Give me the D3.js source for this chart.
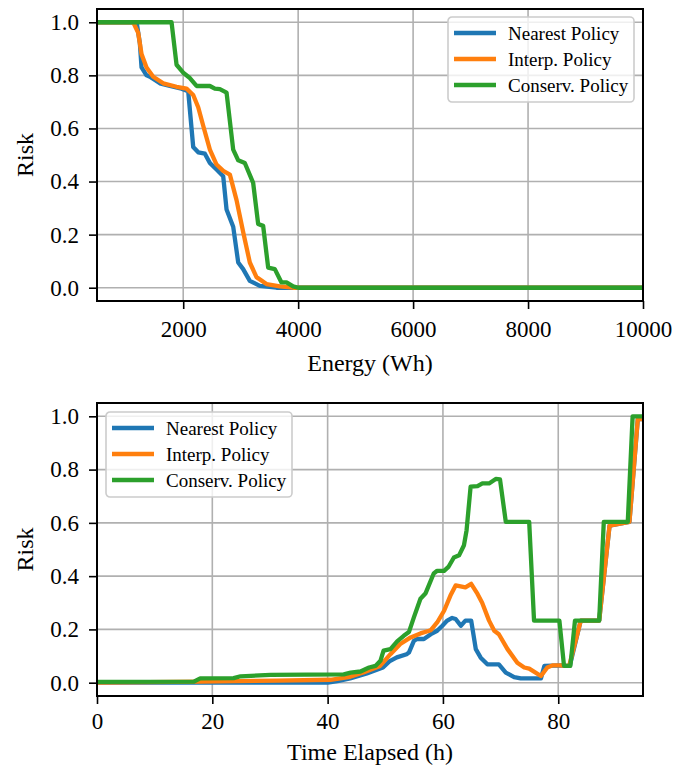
<!DOCTYPE html>
<html>
<head>
<meta charset="utf-8">
<script src="https://cdn.jsdelivr.net/npm/d3@7"></script>
<style>
  html, body { margin: 0; padding: 0; background: #fff; }
  svg text { font-family: "Liberation Serif", "Tinos", "Times New Roman", "Nimbus Roman", "Nimbus Roman No9 L", Times, "DejaVu Serif", serif !important; fill: #000; }
</style>
</head>
<body>
<svg id="chart" width="699" height="769"></svg>
<script>
// ---------------- DATA ----------------
const seriesNames = ["Nearest Policy", "Interp. Policy", "Conserv. Policy"];
const seriesColors = ["#1f77b4", "#ff7f0e", "#2ca02c"];

// Top panel: Risk vs Energy (Wh)
const topNearestEnergy = [500, 1190, 1246, 1275, 1362, 1420, 1594, 1768, 1971, 2087, 2174, 2261, 2377, 2464, 2580, 2696, 2754, 2870, 2957, 3043, 3159, 3333, 3623, 10000];
const topNearestRisk   = [1, 1, 0.92, 0.83, 0.80, 0.795, 0.77, 0.76, 0.75, 0.74, 0.53, 0.51, 0.505, 0.47, 0.445, 0.42, 0.295, 0.23, 0.095, 0.07, 0.026, 0.007, 0, 0];
const topInterpEnergy  = [500, 1130, 1217, 1275, 1362, 1478, 1652, 1884, 2058, 2174, 2261, 2348, 2464, 2580, 2696, 2812, 2928, 3043, 3159, 3275, 3449, 3681, 3913, 10000];
const topInterpRisk    = [1, 1, 0.96, 0.88, 0.83, 0.795, 0.77, 0.757, 0.75, 0.726, 0.68, 0.61, 0.52, 0.464, 0.44, 0.426, 0.33, 0.21, 0.095, 0.04, 0.014, 0.005, 0, 0];
const topConservEnergy = [500, 1797, 1884, 2000, 2116, 2232, 2464, 2551, 2638, 2754, 2870, 2957, 3072, 3217, 3304, 3391, 3478, 3594, 3710, 3797, 3913, 4000, 10000];
const topConservRisk   = [1, 1, 0.84, 0.81, 0.79, 0.76, 0.76, 0.75, 0.748, 0.735, 0.52, 0.48, 0.47, 0.395, 0.24, 0.233, 0.076, 0.07, 0.02, 0.02, 0.005, 0, 0];

// Bottom panel: Risk vs Time Elapsed (h)
const botNearestTime = [0, 40, 41.7, 43.9, 46.8, 49.6, 50.7, 52.0, 53.7, 54.1, 54.96, 55.5, 56.7, 57.9, 59.0, 59.9, 60.75, 61.6, 62.2, 63.1, 63.9, 64.9, 65.7, 66.55, 67.7, 69.7, 70.9, 72.35, 73.5, 77.0, 77.6, 80.5, 81.0, 82.0, 83.9, 87.1, 88.9, 92.35, 93.8, 94.7];
const botNearestRisk = [0, 0, 0.006, 0.016, 0.035, 0.057, 0.08, 0.095, 0.107, 0.113, 0.157, 0.164, 0.164, 0.182, 0.195, 0.214, 0.233, 0.243, 0.239, 0.214, 0.233, 0.233, 0.126, 0.094, 0.069, 0.069, 0.038, 0.021, 0.016, 0.016, 0.063, 0.065, 0.063, 0.063, 0.233, 0.233, 0.59, 0.604, 0.99, 0.99];
const botInterpTime  = [0, 17.9, 24.3, 31.2, 40.5, 43.9, 46.2, 49.1, 50.9, 52.6, 54.4, 56.1, 57.9, 59.0, 60.2, 61.3, 62.2, 63.9, 64.9, 66.0, 66.8, 68.0, 68.9, 69.7, 71.2, 72.9, 74.1, 74.96, 77.0, 78.1, 79.0, 80.5, 81.0, 81.9, 83.9, 87.1, 88.9, 92.35, 93.8, 94.7];
const botInterpRisk  = [0, 0.004, 0.006, 0.008, 0.011, 0.022, 0.038, 0.063, 0.107, 0.145, 0.17, 0.185, 0.197, 0.226, 0.27, 0.327, 0.365, 0.358, 0.371, 0.333, 0.30, 0.233, 0.195, 0.182, 0.126, 0.075, 0.057, 0.053, 0.025, 0.057, 0.065, 0.065, 0.063, 0.063, 0.233, 0.233, 0.59, 0.604, 0.99, 0.99];
const botConservTime = [0, 16.8, 17.9, 23.7, 24.9, 30.1, 42.8, 44.0, 45.7, 47.2, 48.3, 49.16, 49.7, 50.9, 52.06, 53.2, 54.1, 54.96, 56.1, 57.0, 58.4, 59.0, 60.2, 61.0, 61.9, 62.8, 63.65, 64.1, 64.8, 66.0, 66.84, 68.0, 69.16, 69.9, 70.9, 74.96, 75.8, 80.2, 81.0, 82.1, 82.9, 87.1, 87.9, 92.06, 92.9, 94.7];
const botConservRisk = [0.003, 0.004, 0.016, 0.017, 0.024, 0.029, 0.031, 0.038, 0.042, 0.057, 0.063, 0.082, 0.12, 0.126, 0.155, 0.176, 0.19, 0.245, 0.315, 0.336, 0.41, 0.42, 0.42, 0.436, 0.47, 0.478, 0.516, 0.572, 0.736, 0.738, 0.748, 0.748, 0.765, 0.763, 0.604, 0.604, 0.233, 0.233, 0.063, 0.063, 0.233, 0.233, 0.604, 0.604, 1.0, 1.0];

const topXTicks = [2000, 4000, 6000, 8000, 10000];
const botXTicks = [0, 20, 40, 60, 80];
const yTicks = [0, 0.2, 0.4, 0.6, 0.8, 1.0];

// ---------------- DRAW ----------------
const svg = d3.select("#chart");
const zip = (xs, ys) => xs.map((x, i) => [x, ys[i]]);
const FONT = '"Liberation Serif", "Tinos", "Times New Roman", "Nimbus Roman", Times, "DejaVu Serif", serif';

function panel(cfg) {
  const { left, right, top, bottom, xDomain, xTicks, xLabel, series, legendPos, id, xPad, labelOff } = cfg;
  const x = d3.scaleLinear().domain(xDomain).range([left, right]);
  const y = d3.scaleLinear().domain([-0.05, 1.05]).range([bottom, top]);
  const g = svg.append("g").attr("font-family", FONT);

  svg.append("defs").append("clipPath").attr("id", id)
    .append("rect").attr("x", left).attr("y", top).attr("width", right - left).attr("height", bottom - top);

  // grid
  g.append("g").selectAll("line").data(xTicks).join("line")
    .attr("x1", d => x(d)).attr("x2", d => x(d)).attr("y1", top).attr("y2", bottom)
    .attr("stroke", "#b0b0b0").attr("stroke-width", 1.6);
  g.append("g").selectAll("line").data(yTicks).join("line")
    .attr("x1", left).attr("x2", right).attr("y1", d => y(d)).attr("y2", d => y(d))
    .attr("stroke", "#b0b0b0").attr("stroke-width", 1.6);

  // lines
  const line = d3.line().x(d => x(d[0])).y(d => y(d[1]));
  const lg = g.append("g").attr("clip-path", `url(#${id})`);
  series.forEach((s, i) => {
    lg.append("path").datum(s).attr("d", line)
      .attr("fill", "none").attr("stroke", seriesColors[i]).attr("stroke-width", 4.3)
      .attr("stroke-linejoin", "round").attr("stroke-linecap", "square");
  });

  // axes
  const xAxis = d3.axisBottom(x).tickValues(xTicks).tickFormat(d3.format("d")).tickSize(8).tickPadding(xPad);
  const gx = g.append("g").attr("transform", `translate(0,${bottom})`).call(xAxis);
  const yAxis = d3.axisLeft(y).tickValues(yTicks).tickFormat(d3.format(".1f")).tickSize(8).tickPadding(10);
  const gy = g.append("g").attr("transform", `translate(${left},0)`).call(yAxis);
  [gx, gy].forEach(a => {
    a.attr("font-family", FONT).attr("font-size", 23);
    a.select(".domain").remove();
    a.selectAll(".tick line").attr("stroke", "#000").attr("stroke-width", 1.6);
    a.selectAll(".tick text").attr("font-size", 23).style("font-family", FONT);
  });

  // spines
  g.append("rect").attr("x", left).attr("y", top).attr("width", right - left).attr("height", bottom - top)
    .attr("fill", "none").attr("stroke", "#000").attr("stroke-width", 2);

  // labels
  g.append("text").attr("x", (left + right) / 2).attr("y", bottom + labelOff)
    .attr("text-anchor", "middle").attr("font-size", 24).style("font-family", FONT).text(xLabel);
  g.append("text").attr("transform", `translate(33,${(top + bottom) / 2}) rotate(-90)`)
    .attr("text-anchor", "middle").attr("font-size", 24).style("font-family", FONT).text("Risk");

  // legend
  const [lx, ly] = legendPos;
  const leg = g.append("g").attr("transform", `translate(${lx},${ly})`);
  leg.append("rect").attr("x", 0).attr("y", 0).attr("width", 186).attr("height", 85)
    .attr("rx", 4).attr("fill", "#fff").attr("fill-opacity", 0.8)
    .attr("stroke", "#cccccc").attr("stroke-width", 1.6);
  seriesNames.forEach((name, i) => {
    const cy = 16 + i * 26;
    leg.append("line").attr("x1", 6).attr("x2", 48).attr("y1", cy).attr("y2", cy)
      .attr("stroke", seriesColors[i]).attr("stroke-width", 4.3);
    leg.append("text").attr("x", 60).attr("y", cy + 6.5).attr("font-size", 19)
      .style("font-family", FONT).text(name);
  });
}

panel({
  id: "clipTop", left: 97, right: 643, top: 9, bottom: 301,
  xDomain: [500, 10000], xTicks: topXTicks, xLabel: "Energy (Wh)",
  xPad: 12, labelOff: 70,
  series: [zip(topNearestEnergy, topNearestRisk), zip(topInterpEnergy, topInterpRisk), zip(topConservEnergy, topConservRisk)],
  legendPos: [448, 17]
});
panel({
  id: "clipBot", left: 97, right: 643, top: 403, bottom: 696,
  xDomain: [0, 94.7], xTicks: botXTicks, xLabel: "Time Elapsed (h)",
  xPad: 9, labelOff: 64,
  series: [zip(botNearestTime, botNearestRisk), zip(botInterpTime, botInterpRisk), zip(botConservTime, botConservRisk)],
  legendPos: [106, 412]
});
</script>
</body>
</html>
